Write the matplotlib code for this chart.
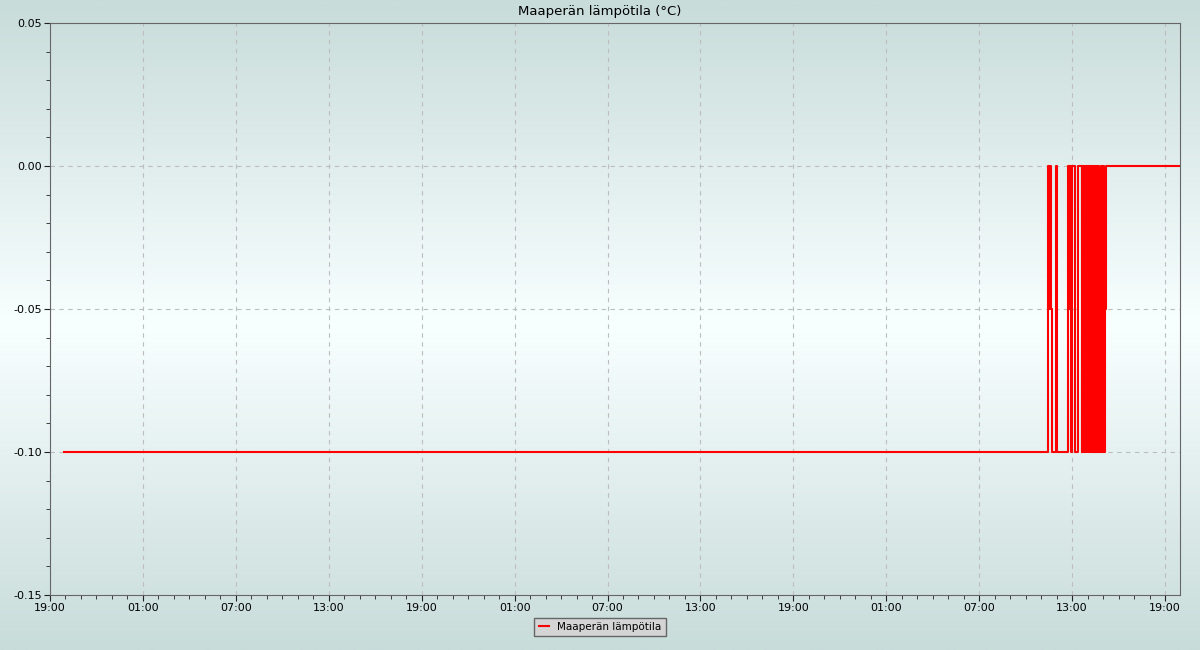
import numpy as np
import pandas as pd
import matplotlib
matplotlib.use('Agg')
import matplotlib.pyplot as plt
import matplotlib.dates as mdates

# soil temperature, level changes (steps-post)
start_time = '2024-01-01 19:55'
start_value = -0.1
end_time = '2024-01-04 19:58'

day4 = '2024-01-04 '
change_clock = ['11:25', '11:29', '11:35', '11:39', '11:43', '11:58', '12:02',
                '12:45', '12:50', '12:53', '12:57', '13:00', '13:10', '13:12',
                '13:22', '13:37', '13:40', '13:43', '13:46', '13:49', '13:53',
                '13:56', '13:58', '14:01', '14:03', '14:05', '14:07', '14:11',
                '14:15', '14:17', '14:19', '14:25', '14:28', '14:30', '14:32',
                '14:34', '14:36', '14:40', '14:42', '14:45', '14:48', '14:53',
                '14:55', '14:58', '15:02', '15:05', '15:08', '15:12']
change_values = [0.0, -0.05, 0.0, -0.05, -0.1, 0.0, -0.1,
                 0.0, -0.05, 0.0, -0.1, 0.0, -0.05, -0.1,
                 0.0, -0.1, 0.0, -0.1, 0.0, -0.1, 0.0,
                 -0.1, 0.0, -0.1, 0.0, -0.1, 0.0, -0.1,
                 0.0, -0.1, 0.0, -0.1, 0.0, -0.1, 0.0,
                 -0.1, 0.0, -0.1, 0.0, -0.1, -0.1, 0.0,
                 -0.1, 0.0, -0.05, -0.1, -0.05, 0.0]

times = [pd.Timestamp(start_time)] + [pd.Timestamp(day4 + c) for c in change_clock] + [pd.Timestamp(end_time)]
values = [start_value] + change_values + [change_values[-1]]

fig = plt.figure(figsize=(12, 6.5), dpi=100)

# background gradient over whole figure
bg = fig.add_axes([0, 0, 1, 1], zorder=-10)
edge = np.array([200, 220, 218]) / 255
mid = np.array([248, 255, 255]) / 255
w = 1 - np.abs(np.linspace(-1, 1, 400))
grad = edge[None, :] * (1 - w[:, None]) + mid[None, :] * w[:, None]
bg.imshow(grad[:, None, :], aspect='auto', extent=[0, 1, 0, 1])
bg.axis('off')

ax = fig.add_axes([50/1200, 1-595/650, 1130/1200, 572/650])
ax.patch.set_alpha(0)
ax.plot(times, values, color='red', lw=1.5, drawstyle='steps-post', label='Maaperän lämpötila')

ax.set_xlim(pd.Timestamp('2024-01-01 19:00'), pd.Timestamp(end_time))
ax.set_ylim(-0.15, 0.05)
ax.set_yticks([-0.15, -0.10, -0.05, 0.00, 0.05])
ax.yaxis.set_major_formatter(matplotlib.ticker.FormatStrFormatter('%.2f'))
ax.yaxis.set_minor_locator(matplotlib.ticker.MultipleLocator(0.01))
ax.xaxis.set_major_locator(mdates.HourLocator(byhour=[1, 7, 13, 19]))
ax.xaxis.set_minor_locator(mdates.HourLocator())
ax.xaxis.set_major_formatter(mdates.DateFormatter('%H:%M'))

ax.tick_params(which='major', length=4, labelsize=8, color='#222222', pad=2)
ax.tick_params(which='minor', length=3, color='#222222')
ax.grid(True, which='major', ls=(0, (4, 4)), color='#bdbdbd', lw=0.8)
for s in ax.spines.values():
    s.set_color('#666666')

fig.text(0.5, 1-11/650, 'Maaperän lämpötila (°C)', fontsize=9.5, ha='center', va='center')

leg = fig.legend(loc='center', bbox_to_anchor=(0.5, 1-627/650), fontsize=7.5,
                 handlelength=1.0, fancybox=False, framealpha=1)
leg.get_frame().set_facecolor('#d4d4d4')
leg.get_frame().set_edgecolor('#666666')

fig.savefig('out.png', dpi=100)
